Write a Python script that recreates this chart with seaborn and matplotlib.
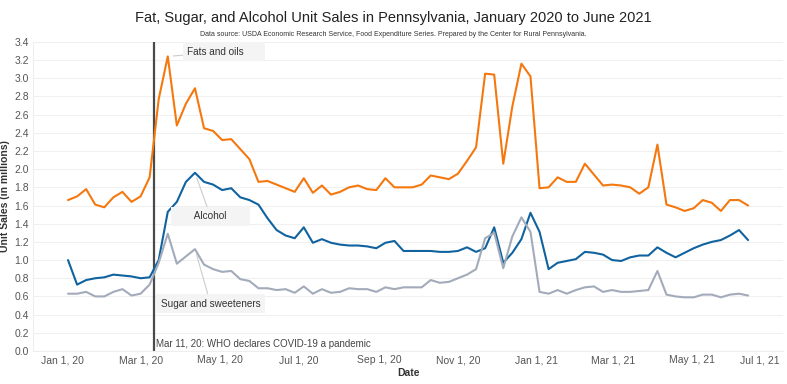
import seaborn as sns
import matplotlib.pyplot as plt
import matplotlib.dates as mdates
from matplotlib.transforms import ScaledTranslation
import pandas as pd

# Weekly unit sales (millions), Jan 5 2020 - Jun 13 2021
weeks = pd.date_range("2020-01-05", periods=76, freq="7D")

fats_oils = [
    1.66, 1.70, 1.78, 1.61, 1.58, 1.69, 1.75, 1.64, 1.70, 1.91,
    2.77, 3.24, 2.48, 2.72, 2.89, 2.45, 2.42, 2.32, 2.33, 2.22,
    2.11, 1.86, 1.87, 1.83, 1.79, 1.75, 1.90, 1.74, 1.82, 1.72,
    1.75, 1.80, 1.82, 1.78, 1.77, 1.90, 1.80, 1.80, 1.80, 1.83,
    1.93, 1.91, 1.89, 1.95, 2.09, 2.24, 3.05, 3.04, 2.06, 2.69,
    3.16, 3.02, 1.79, 1.80, 1.91, 1.86, 1.86, 2.06, 1.94, 1.82,
    1.83, 1.82, 1.80, 1.73, 1.80, 2.27, 1.61, 1.58, 1.54, 1.57,
    1.66, 1.63, 1.54, 1.66, 1.66, 1.60,
]
alcohol = [
    1.00, 0.73, 0.78, 0.80, 0.81, 0.84, 0.83, 0.82, 0.80, 0.81,
    1.00, 1.53, 1.64, 1.86, 1.96, 1.86, 1.83, 1.77, 1.79, 1.69,
    1.66, 1.61, 1.46, 1.33, 1.27, 1.24, 1.36, 1.19, 1.23, 1.19,
    1.17, 1.16, 1.16, 1.15, 1.13, 1.19, 1.21, 1.10, 1.10, 1.10,
    1.10, 1.09, 1.09, 1.10, 1.14, 1.09, 1.13, 1.36, 0.97, 1.08,
    1.23, 1.52, 1.31, 0.90, 0.97, 0.99, 1.01, 1.09, 1.08, 1.06,
    1.00, 0.99, 1.03, 1.05, 1.05, 1.14, 1.08, 1.03, 1.08, 1.13,
    1.17, 1.20, 1.22, 1.27, 1.33, 1.22,
]
sugar = [
    0.63, 0.63, 0.65, 0.60, 0.60, 0.65, 0.68, 0.61, 0.63, 0.73,
    0.97, 1.29, 0.96, 1.04, 1.12, 0.95, 0.90, 0.87, 0.88, 0.79,
    0.77, 0.69, 0.69, 0.67, 0.68, 0.64, 0.71, 0.63, 0.68, 0.64,
    0.65, 0.69, 0.68, 0.68, 0.65, 0.70, 0.68, 0.70, 0.70, 0.70,
    0.78, 0.75, 0.76, 0.80, 0.84, 0.90, 1.24, 1.30, 0.91, 1.26,
    1.47, 1.31, 0.65, 0.63, 0.67, 0.63, 0.67, 0.70, 0.71, 0.65,
    0.67, 0.65, 0.65, 0.66, 0.67, 0.88, 0.62, 0.60, 0.59, 0.59,
    0.62, 0.62, 0.59, 0.62, 0.63, 0.61,
]

categories = ["Fats and oils", "Alcohol", "Sugar and sweeteners"]
colors = {"Fats and oils": "#f5780f", "Alcohol": "#10639f", "Sugar and sweeteners": "#a3abbb"}

df = pd.concat([
    pd.DataFrame({"Date": weeks, "Sales": vals, "Category": cat})
    for cat, vals in zip(categories, [fats_oils, alcohol, sugar])
])

sns.set_theme(style="white")
plt.rcParams["font.family"] = ["Liberation Sans", "DejaVu Sans"]

fig, ax = plt.subplots(figsize=(7.87, 3.84), dpi=100)
fig.subplots_adjust(left=0.042, right=0.995, bottom=0.086, top=0.891)

sns.lineplot(data=df, x="Date", y="Sales", hue="Category", palette=colors,
             linewidth=1.5, legend=False, ax=ax)

# axes
ax.set_ylim(0, 3.4)
ax.set_yticks([i / 5 for i in range(18)])
ax.yaxis.set_major_formatter(plt.FuncFormatter(lambda v, p: f"{v:.1f}"))
ax.set_xlim(pd.Timestamp("2019-12-09"), pd.Timestamp("2021-07-10"))
ax.xaxis.set_major_locator(mdates.MonthLocator(bymonth=[1, 3, 5, 7, 9, 11]))
ax.xaxis.set_major_formatter(mdates.DateFormatter("%b %-d, %y"))
ax.tick_params(length=0, labelsize=7.5, labelcolor="#555555", pad=3)
ax.grid(axis="y", color="#f0f0f0", linewidth=0.8)
for s in ["top", "right"]:
    ax.spines[s].set_visible(False)
for s in ["left", "bottom"]:
    ax.spines[s].set_color("#eeeeee")
    ax.spines[s].set_linewidth(0.8)

# keep the last date label inside the figure
fig.canvas.draw()
last = ax.get_xticklabels()[-1]
last.set_transform(last.get_transform() + ScaledTranslation(-8 / 72, 0, fig.dpi_scale_trans))

ax.set_xlabel("Date", fontsize=7.5, fontweight="bold", color="#333333", labelpad=2)
ax.set_ylabel("Unit Sales (in millions)", fontsize=7.5, fontweight="bold", color="#333333", labelpad=3)

# pandemic marker
covid = pd.Timestamp("2020-03-11")
ax.axvline(covid, color="#4a4a4a", linewidth=1.6, zorder=1)
ax.text(covid + pd.Timedelta(days=2), 0.02, "Mar 11, 20: WHO declares COVID-19 a pandemic",
        fontsize=7, color="#444444", va="bottom", ha="left")

# line labels
box = dict(boxstyle="square,pad=0.45", facecolor="#f4f4f4", edgecolor="none")
line = dict(arrowstyle="-", color="#cccccc", linewidth=0.8, shrinkA=0, shrinkB=4)
ax.annotate("Fats and oils      ", xy=(weeks[11], fats_oils[11]),
            xytext=(pd.Timestamp("2020-04-06"), 3.29), fontsize=7.2, color="#333333",
            ha="left", va="center", bbox=box, arrowprops=line)
ax.annotate("       Alcohol       ", xy=(weeks[14], alcohol[14]),
            xytext=(pd.Timestamp("2020-04-24"), 1.48), fontsize=7.2, color="#333333",
            ha="center", va="center", bbox=box, arrowprops=line)
ax.annotate("Sugar and sweeteners", xy=(weeks[14], sugar[14]),
            xytext=(pd.Timestamp("2020-04-24"), 0.52), fontsize=7.2, color="#333333",
            ha="center", va="center", bbox=box, arrowprops=line)

fig.text(0.5, 0.953, "Fat, Sugar, and Alcohol Unit Sales in Pennsylvania, January 2020 to June 2021",
         ha="center", va="center", fontsize=10.5, color="#222222")
fig.text(0.5, 0.911, "Data source: USDA Economic Research Service, Food Expenditure Series. "
         "Prepared by the Center for Rural Pennsylvania.",
         ha="center", va="center", fontsize=5.0, color="#333333")

fig.savefig("out.png", dpi=100)
